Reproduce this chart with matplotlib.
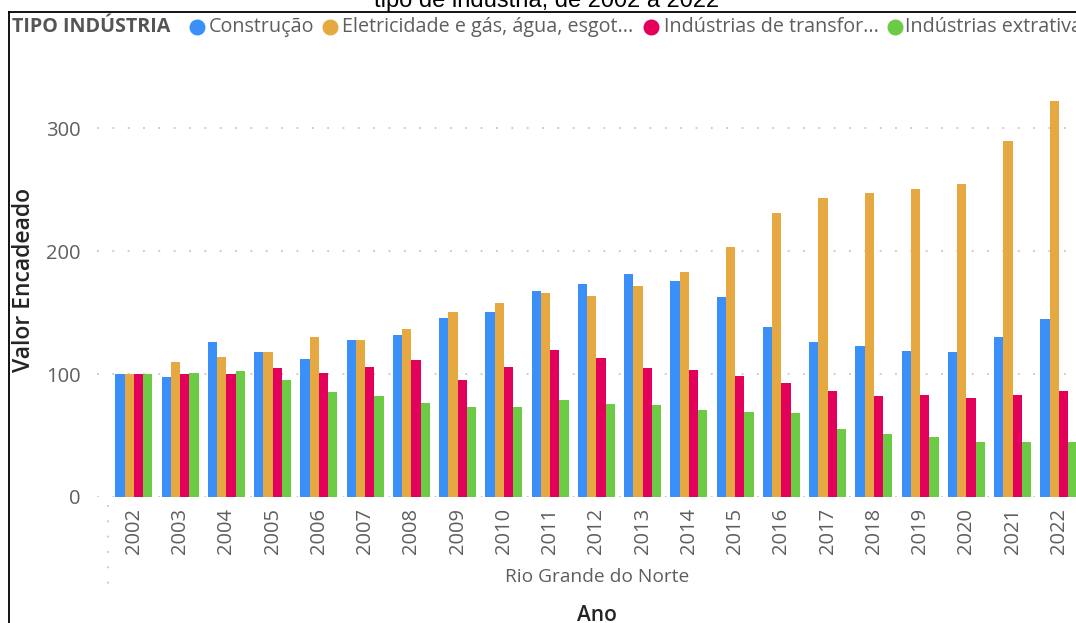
import numpy as np
import matplotlib
matplotlib.use("Agg")
import matplotlib.pyplot as plt
from matplotlib.lines import Line2D

years = [str(y) for y in range(2002, 2023)]

construcao = [100, 97.5, 126, 118, 112.4, 127.9, 132, 145.8, 150.8, 167.7, 173.4,
              181, 175.3, 162.6, 138.5, 126, 123, 119, 118, 130, 144.7]
eletricidade = [100, 110, 114, 118, 129.8, 128, 136.6, 150.1, 157.5, 165.6, 163.2,
                171.8, 183.2, 203.5, 231, 243, 247, 250.7, 254.7, 289.7, 322]
transformacao = [100, 100, 100, 105, 100.8, 105.9, 111.4, 95.1, 105.7, 119.3, 113.3,
                 105.1, 103.5, 98.4, 92.4, 86, 82, 83.2, 80.2, 83.2, 86.4]
extrativas = [100, 101, 102.4, 95, 85.6, 81.9, 76.7, 73.2, 72.9, 79.1, 75.9,
              74.5, 70.5, 68.8, 68, 55.5, 51.2, 48.7, 45, 45, 45]

series_names = ["Construção", "Eletricidade e gás, água, esgot...",
                "Indústrias de transfor...", "Indústrias extrativa"]
colors = ["#3A90F8", "#E6A941", "#E2005A", "#6BCB45"]

W, H = 1076, 623
fig = plt.figure(figsize=(W / 100, H / 100), dpi=100)
fig.patch.set_facecolor("white")

pbi_font = "Open Sans"
gray = "#605E5C"

# plot area
ax = fig.add_axes([97 / W, 1 - 497 / H, (W - 97) / W, (497 - 79) / H])
x = np.arange(len(years))
bw = 0.2
all_series = [construcao, eletricidade, transformacao, extrativas]
for i, (vals, col) in enumerate(zip(all_series, colors)):
    ax.bar(x + (i - 1.5) * bw, vals, width=bw, color=col, linewidth=0, zorder=2)

ax.set_xlim(-0.8, 20.37)
ax.set_ylim(0, 340)
ax.set_yticks([0, 100, 200, 300])
ax.set_yticklabels(["0", "100", "200", "300"], fontsize=14.5, color=gray,
                   family=pbi_font)
ax.set_xticks(x)
ax.set_xticklabels(years, rotation=90, fontsize=14.5, color=gray, family=pbi_font)
ax.tick_params(axis="y", length=0, pad=12)
ax.tick_params(axis="x", length=0, pad=8)
for s in ax.spines.values():
    s.set_visible(False)
ax.grid(axis="y", color="#C8C6C4", linestyle=(0, (1, 7.5)), linewidth=1.3, zorder=0)
ax.set_axisbelow(True)

# vertical dotted separator under the axis
fig.add_artist(Line2D([108 / W, 108 / W], [1 - 505 / H, 1 - 594 / H],
                      transform=fig.transFigure, color="#C8C6C4",
                      linestyle=(0, (1, 7.5)), linewidth=1.3))

fig.text(597 / W, 1 - 577 / H, "Rio Grande do Norte", ha="center", va="center",
         fontsize=13.8, color=gray, family=pbi_font)
fig.text(597 / W, 1 - 621 / H, "Ano", ha="center", va="baseline",
         fontsize=15, color="#252423", family=pbi_font, fontweight="semibold")
fig.text(24 / W, 1 - 280 / H, "Valor Encadeado", ha="center", va="center",
         rotation=90, fontsize=16.5, color="#252423", family=pbi_font,
         fontweight="semibold")

# legend
ly = 1 - 27 / H
fig.text(12 / W, ly, "TIPO INDÚSTRIA", ha="left", va="center", fontsize=14.2,
         color="#555555", family=pbi_font, fontweight="bold")
marker_x = [197, 330, 651, 895]
text_x = [209, 342, 664, 905]
for mx, tx, name, col in zip(marker_x, text_x, series_names, colors):
    fig.add_artist(Line2D([mx / W], [ly], transform=fig.transFigure, marker="o",
                          markersize=10.5, color=col, linestyle="none"))
    fig.text(tx / W, ly, name, ha="left", va="center", fontsize=14.2,
             color=gray, family=pbi_font)

# frame and cut-off title
fig.add_artist(Line2D([9 / W, 9 / W], [0, 1 - 12 / H], transform=fig.transFigure,
                      color="black", linewidth=1.3))
fig.add_artist(Line2D([9 / W, 1], [1 - 12 / H, 1 - 12 / H], transform=fig.transFigure,
                      color="black", linewidth=1.3))
fig.text(547 / W, 1 - 7 / H, "tipo de indústria, de 2002 a 2022", ha="center",
         va="baseline", fontsize=17, color="black", family="Liberation Sans")

fig.savefig("out.png", dpi=100, facecolor="white")
